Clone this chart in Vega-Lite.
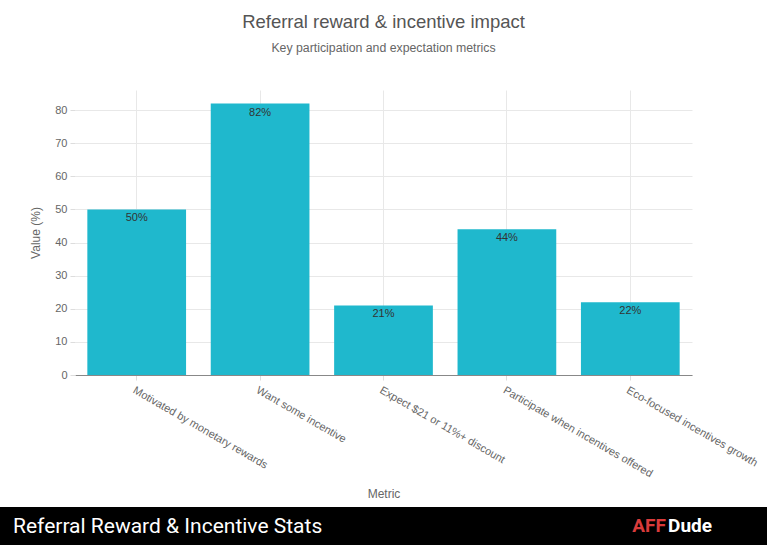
{
  "$schema": "https://vega.github.io/schema/vega-lite/v6.json",
  "background": "white",
  "padding": {"top": 13, "left": 0, "right": 0, "bottom": 0},
  "title": {
    "text": "Referral reward & incentive impact",
    "subtitle": "Key participation and expectation metrics",
    "anchor": "middle",
    "font": "Liberation Sans",
    "fontSize": 18.5,
    "fontWeight": "normal",
    "color": "#555555",
    "subtitleFont": "Liberation Sans",
    "subtitleFontSize": 12.3,
    "subtitleColor": "#666666",
    "subtitlePadding": 10,
    "offset": 36
  },
  "vconcat": [
    {
      "width": 617,
      "height": 285,
      "data": {
        "values": [
          {"metric": "Motivated by monetary rewards", "value": 50, "label": "50%"},
          {"metric": "Want some incentive", "value": 82, "label": "82%"},
          {"metric": "Expect $21 or 11%+ discount", "value": 21, "label": "21%"},
          {"metric": "Participate when incentives offered", "value": 44, "label": "44%"},
          {"metric": "Eco-focused incentives growth", "value": 22, "label": "22%"}
        ]
      },
      "encoding": {
        "x": {
          "field": "metric",
          "type": "nominal",
          "sort": null,
          "scale": {"paddingInner": 0.2, "paddingOuter": 0.1},
          "axis": {
            "title": "Metric",
            "labelAngle": 30,
            "labelAlign": "left",
            "labelBaseline": "top",
            "labelFontSize": 11,
            "labelColor": "#666666",
            "labelPadding": 4,
            "grid": true,
            "gridColor": "#e8e8e8",
            "ticks": true,
            "tickColor": "#dddddd",
            "tickSize": 5,
            "domainColor": "#888888",
            "titleFontSize": 12,
            "titleFontWeight": "normal",
            "titleColor": "#666666",
            "titlePadding": 10
          }
        },
        "y": {
          "field": "value",
          "type": "quantitative",
          "scale": {"domain": [0, 86.1], "nice": false},
          "axis": {
            "title": "Value (%)",
            "values": [0, 10, 20, 30, 40, 50, 60, 70, 80],
            "domain": false,
            "grid": true,
            "gridColor": "#e8e8e8",
            "tickColor": "#dddddd",
            "tickSize": 5,
            "labelFontSize": 11,
            "labelColor": "#666666",
            "labelPadding": 3,
            "titleFontSize": 12,
            "titleFontWeight": "normal",
            "titleColor": "#666666",
            "titlePadding": 12
          }
        }
      },
      "layer": [
        {"mark": {"type": "bar", "color": "#1FB8CD"}},
        {
          "mark": {"type": "text", "baseline": "top", "dy": 3, "fontSize": 11, "color": "#333333"},
          "encoding": {"text": {"field": "label"}}
        }
      ]
    },
    {
      "width": 767,
      "height": 38,
      "view": {"fill": "black", "stroke": null},
      "title": {
        "text": "Referral Reward & Incentive Stats",
        "anchor": "start",
        "frame": "group",
        "font": "Roboto",
        "fontSize": 21,
        "fontWeight": "normal",
        "color": "white",
        "offset": -30,
        "dx": 13
      },
      "data": {"values": [{"brand": "AFF"}, {"brand": "Dude"}]},
      "mark": {"type": "text", "font": "Roboto", "fontSize": 19, "fontWeight": "bold", "align": "center", "baseline": "middle"},
      "encoding": {
        "x": {"field": "brand", "type": "nominal", "scale": {"type": "point", "domain": ["AFF", "Dude"], "range": [649, 690], "padding": 0}, "axis": null},
        "text": {"field": "brand"},
        "color": {"field": "brand", "type": "nominal", "scale": {"domain": ["AFF", "Dude"], "range": ["#d93b3b", "#ffffff"]}, "legend": null}
      }
    }
  ],
  "spacing": 132,
  "bounds": "flush",
  "center": true,
  "resolve": {"scale": {"x": "independent", "y": "independent", "color": "independent"}},
  "config": {
    "font": "Liberation Sans",
    "view": {"stroke": null}
  }
}
